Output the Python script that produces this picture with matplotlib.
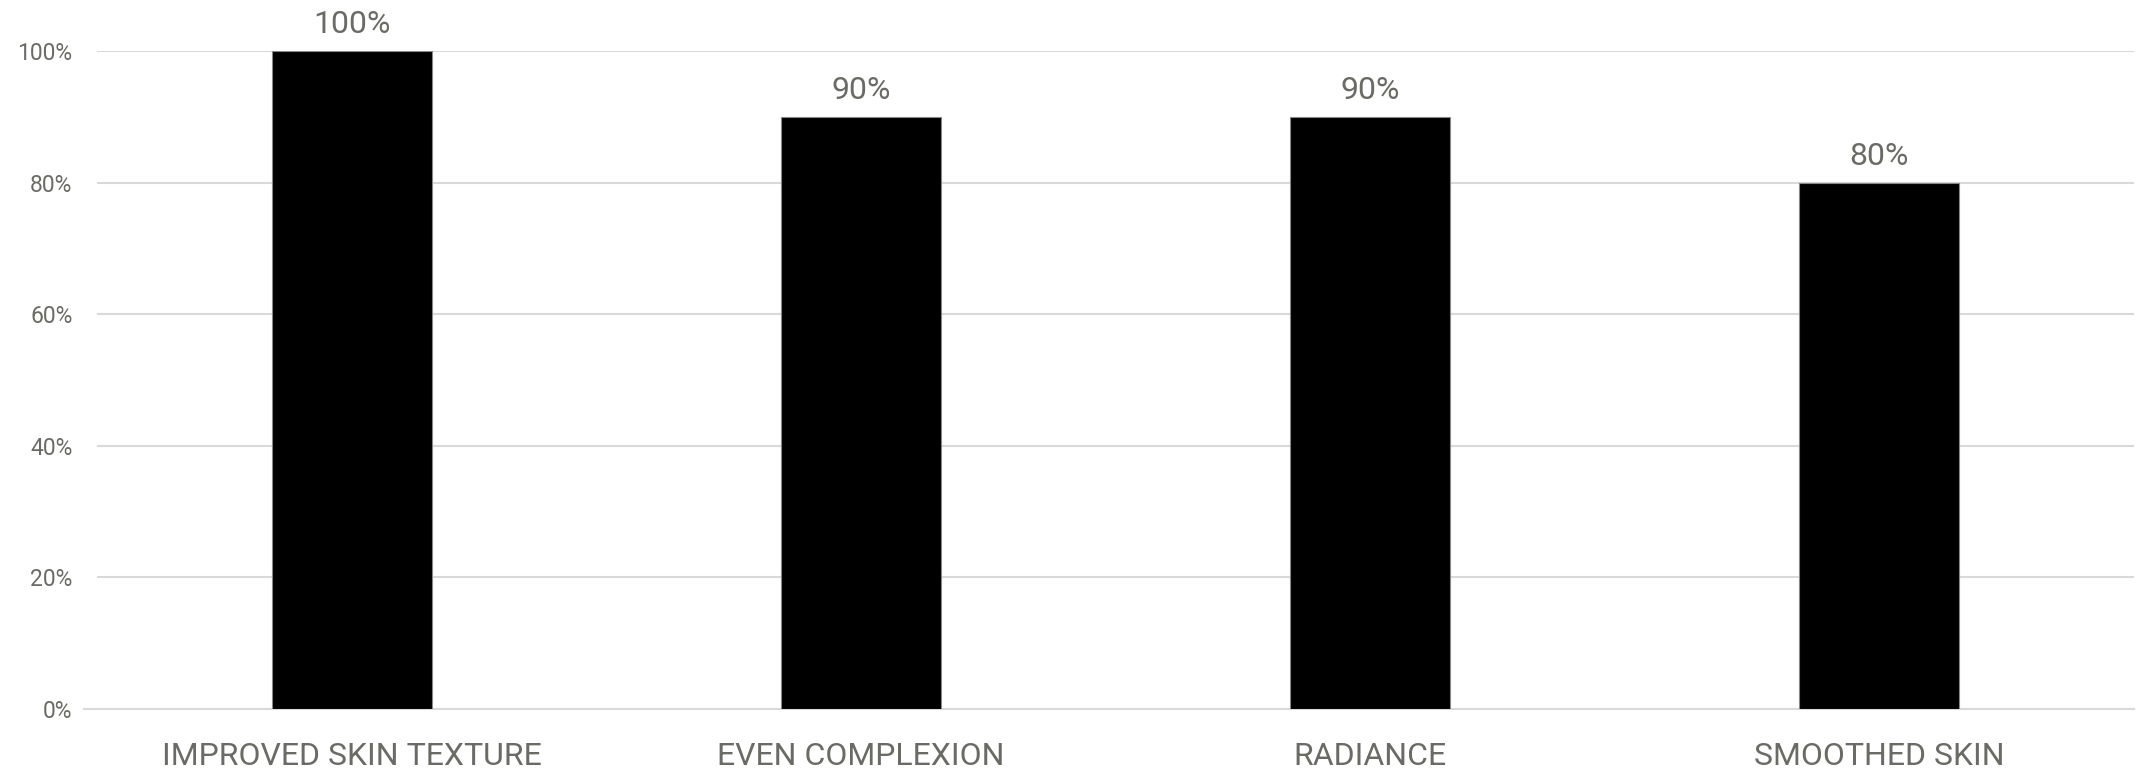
import matplotlib.pyplot as plt
import numpy as np

categories = ["IMPROVED SKIN TEXTURE", "EVEN COMPLEXION", "RADIANCE", "SMOOTHED SKIN"]
values = [1.00, 0.90, 0.90, 0.80]
y_ticks = [0, 0.2, 0.4, 0.6, 0.8, 1.0]
y_labels = ["0%", "20%", "40%", "60%", "80%", "100%"]

txt = "#6b6b66"
grid = "#d9d9d9"

plt.rcParams['font.family'] = ['Roboto', 'DejaVu Sans']

fig = plt.figure(figsize=(21.36, 7.69), dpi=100)
ax = fig.add_axes([0.0456, 0.078, 0.9534, 0.8557])

x = np.arange(len(categories))
bars = ax.bar(x, values, width=0.314, color="black", edgecolor="#888888", linewidth=0.8, zorder=3)

for b, v in zip(bars, values):
    ax.text(b.get_x() + b.get_width() / 2, v + 0.018, f"{int(round(v * 100))}%",
            ha="center", va="bottom", fontsize=23, color=txt)

ax.set_xlim(-0.5, len(categories) - 0.5)
ax.set_ylim(0, 1.0)
ax.set_yticks(y_ticks)
ax.set_yticklabels(y_labels, fontsize=16.5, color=txt)
ax.set_xticks(x)
ax.set_xticklabels(categories, fontsize=23, color=txt)
ax.tick_params(axis="y", length=0, pad=18)
ax.tick_params(axis="x", length=0, pad=24)
ax.yaxis.grid(True, color=grid, linewidth=1.5, zorder=0)

for s in ["top", "right", "left", "bottom"]:
    ax.spines[s].set_visible(False)
# axis line runs a little past the gridlines on the left
ax.axhline(0, xmin=-0.0065, xmax=1, color=grid, linewidth=1.5, clip_on=False, zorder=2)

fig.savefig("out.png", dpi=100)
